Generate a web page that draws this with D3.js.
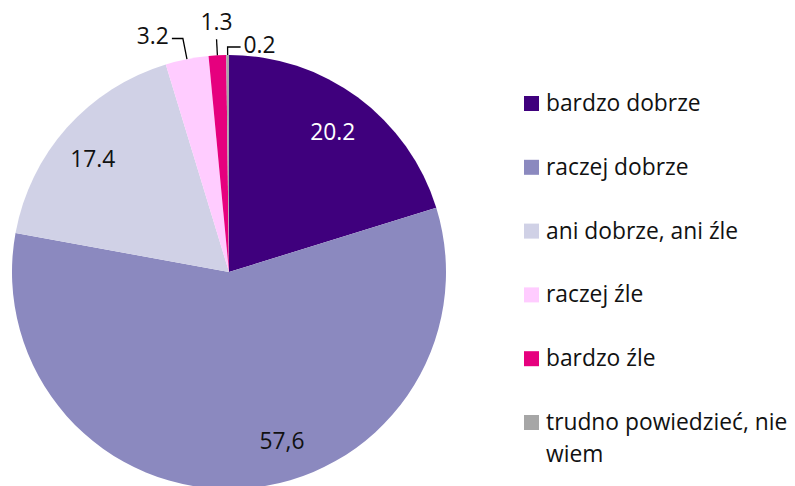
<!DOCTYPE html>
<html>
<head>
<meta charset="utf-8">
<script src="https://cdn.jsdelivr.net/npm/d3@7"></script>
<style>
  body { margin: 0; background: #fff; }
  svg { display: block; font-family: "Open Sans", sans-serif; }
</style>
</head>
<body>
<svg id="chart"></svg>
<script>
// answers, in drawing order (clockwise from 12 o'clock)
const categories = ["bardzo dobrze", "raczej dobrze", "ani dobrze, ani źle", "raczej źle", "bardzo źle", "trudno powiedzieć, nie wiem"];
const values = [20.2, 57.6, 17.4, 3.2, 1.3, 0.2];
const valueLabels = ["20.2", "57,6", "17.4", "3.2", "1.3", "0.2"];
const colors = ["#3f007d", "#8b89bf", "#d0d1e6", "#ffccff", "#e6007e", "#a6a6a6"];

const width = 795, height = 486;
const cx = 229, cy = 272, R = 217;
const fontSize = 22.8;

const svg = d3.select("#chart").attr("width", width).attr("height", height);

const pie = d3.pie().sort(null).value(d => d.value);
const arcs = pie(categories.map((c, i) => ({ name: c, value: values[i], label: valueLabels[i], color: colors[i] })));
const arc = d3.arc().innerRadius(0).outerRadius(R);

const g = svg.append("g").attr("transform", `translate(${cx},${cy})`);

g.selectAll("path.slice")
  .data(arcs)
  .join("path")
  .attr("class", "slice")
  .attr("d", arc)
  .attr("fill", d => d.data.color);

const polar = (a, r) => [r * Math.sin(a), -r * Math.cos(a)];
const mid = d => (d.startAngle + d.endAngle) / 2;

// inside labels: [index, radius, angle shift in degrees]
const inside = [[0, 175, 0], [1, 177, -14], [2, 177, -2]];
inside.forEach(([i, r, shift]) => {
  const d = arcs[i];
  const [x, y] = polar(mid(d) + shift * Math.PI / 180, r);
  g.append("text")
    .attr("x", x).attr("y", y)
    .attr("text-anchor", "middle")
    .attr("dominant-baseline", "central")
    .attr("font-size", fontSize)
    .attr("fill", i === 0 ? "#fff" : "#111")
    .text(d.data.label);
});

// outside labels with leader lines: [index, elbow offset, horizontal run]
const outside = [[3, 21, -11], [4, 16, 0], [5, 8, 13]];
outside.forEach(([i, e, run]) => {
  const d = arcs[i];
  const a = mid(d);
  const p0 = polar(a, R);
  const p1 = polar(a, R + e);
  const p2 = [p1[0] + run, p1[1]];
  g.append("path")
    .attr("d", d3.line()([p0, p1, p2]))
    .attr("fill", "none")
    .attr("stroke", "#000")
    .attr("stroke-width", 1.3);
  const anchor = run < 0 ? "end" : run > 0 ? "start" : "middle";
  const tx = p2[0] + (run < 0 ? -3 : run > 0 ? 3 : 0);
  const ty = run === 0 ? p2[1] - 18 : p2[1] - 3;
  g.append("text")
    .attr("x", tx).attr("y", ty)
    .attr("text-anchor", anchor)
    .attr("dominant-baseline", "central")
    .attr("font-size", fontSize)
    .attr("fill", "#111")
    .text(d.data.label);
});

// legend
const legendX = 524, legendTop = 111, rowStep = 63.8;
const legend = svg.append("g");
const rows = legend.selectAll("g")
  .data(arcs)
  .join("g")
  .attr("transform", (d, i) => `translate(${legendX},${legendTop + i * rowStep})`);

rows.append("rect")
  .attr("x", 0).attr("y", -15)
  .attr("width", 15).attr("height", 15)
  .attr("fill", d => d.data.color);

rows.append("text")
  .attr("x", 22).attr("y", 0)
  .attr("font-size", fontSize)
  .attr("fill", "#111")
  .each(function (d) {
    const t = d3.select(this);
    const lines = d.data.name === "trudno powiedzieć, nie wiem" ? ["trudno powiedzieć, nie", "wiem"] : [d.data.name];
    lines.forEach((ln, k) => {
      t.append("tspan").attr("x", 22).attr("dy", k === 0 ? 0 : 32).text(ln);
    });
  });
</script>
</body>
</html>
